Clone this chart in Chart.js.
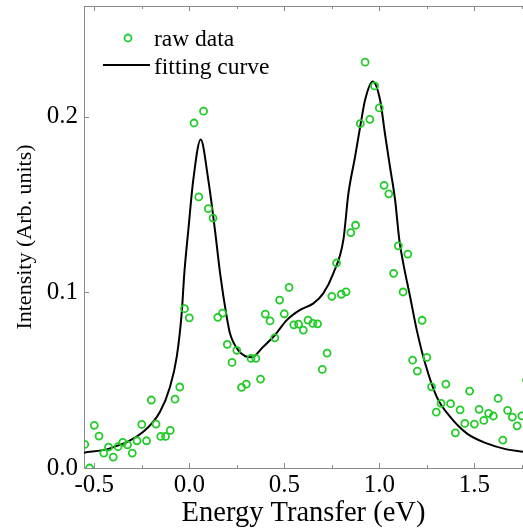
<!DOCTYPE html>
<html>
<head>
<meta charset="utf-8">
<script src="https://cdn.jsdelivr.net/npm/chart.js@4.4.1/dist/chart.umd.min.js"></script>
<style>
  html, body { margin: 0; padding: 0; background: #fff; }
  #wrap { width: 523px; height: 531px; }
</style>
</head>
<body>
<div id="wrap"><canvas id="spectrum" width="523" height="531"></canvas></div>
<script>
// raw data, 0.025 eV steps
const rawX = [
    -0.55, -0.525, -0.5, -0.475, -0.45, -0.425, -0.4, -0.375, -0.35, -0.325,
    -0.3, -0.275, -0.25, -0.225, -0.2, -0.175, -0.15, -0.125, -0.1, -0.075,
    -0.05, -0.025, 0.0, 0.025, 0.05, 0.075, 0.1, 0.125, 0.15, 0.175,
    0.2, 0.225, 0.25, 0.275, 0.3, 0.325, 0.35, 0.375, 0.4, 0.425,
    0.45, 0.475, 0.5, 0.525, 0.55, 0.575, 0.6, 0.625, 0.65, 0.675,
    0.7, 0.725, 0.75, 0.775, 0.8, 0.825, 0.85, 0.875, 0.9, 0.925,
    0.95, 0.975, 1.0, 1.025, 1.05, 1.075, 1.1, 1.125, 1.15, 1.175,
    1.2, 1.225, 1.25, 1.275, 1.3, 1.325, 1.35, 1.375, 1.4, 1.425,
    1.45, 1.475, 1.5, 1.525, 1.55, 1.575, 1.6, 1.625, 1.65, 1.675,
    1.7, 1.725, 1.75, 1.775
];
const rawY = [
    0.0134, 0.0, 0.0243, 0.0182, 0.0085, 0.0119, 0.0062, 0.0121, 0.0146, 0.0132,
    0.0085, 0.0155, 0.0248, 0.0155, 0.0387, 0.025, 0.018, 0.018, 0.0214, 0.0392,
    0.0461, 0.0907, 0.0855, 0.1964, 0.1543, 0.2031, 0.1476, 0.1423, 0.0858, 0.0882,
    0.0704, 0.0601, 0.067, 0.0459, 0.0478, 0.0624, 0.0624, 0.0506, 0.0876, 0.0837,
    0.0741, 0.0956, 0.0878, 0.1028, 0.0815, 0.0819, 0.0785, 0.0842, 0.0823, 0.0821,
    0.0561, 0.0654, 0.0977, 0.1167, 0.0989, 0.1003, 0.134, 0.1382, 0.196, 0.231,
    0.1985, 0.2175, 0.205, 0.1609, 0.1561, 0.1108, 0.1265, 0.1002, 0.1218, 0.0614,
    0.0552, 0.0841, 0.063, 0.0462, 0.0318, 0.0368, 0.0478, 0.0366, 0.02, 0.0331,
    0.0254, 0.0438, 0.025, 0.0334, 0.0271, 0.0311, 0.0296, 0.0396, 0.0159, 0.0328,
    0.029, 0.024, 0.0297, 0.05
];

// fitting curve
const fitX = [
    -0.555, -0.417, -0.242, -0.154, -0.102, -0.066, -0.04, -0.026, -0.005, 0.021,
    0.06, 0.1, 0.135, 0.162, 0.197, 0.214, 0.258, 0.328, 0.389, 0.451,
    0.513, 0.583, 0.653, 0.705, 0.758, 0.811, 0.837, 0.872, 0.902, 0.925,
    0.965, 1.004, 1.03, 1.056, 1.083, 1.105, 1.126, 1.162, 1.197, 1.241,
    1.302, 1.372, 1.46, 1.565, 1.67, 1.756
];
const fitY = [
    0.0087, 0.0112, 0.0206, 0.032, 0.046, 0.0633, 0.088, 0.111, 0.1355, 0.164,
    0.187, 0.164, 0.1355, 0.111, 0.086, 0.0767, 0.067, 0.063, 0.069, 0.0757,
    0.0842, 0.09, 0.0937, 0.0994, 0.1108, 0.13, 0.156, 0.177, 0.196, 0.2095,
    0.22, 0.2095, 0.19, 0.1715, 0.1526, 0.13, 0.1165, 0.0975, 0.0785, 0.0596,
    0.0405, 0.0292, 0.0197, 0.014, 0.0106, 0.0092
];

const xTicks = [-0.5, 0.0, 0.5, 1.0, 1.5];
const xMinor = [-0.25, 0.25, 0.75, 1.25, 1.75];
const yTicks = [0.0, 0.1, 0.2];

const green = "rgb(34, 204, 40)";
const frame = "#8a8a8a";
const serif = "'Liberation Serif', 'Times New Roman', serif";

// inward tick marks + top frame line
const tickMarks = {
    id: "tickMarks",
    afterDatasetsDraw(chart) {
        const { ctx, chartArea: a, scales } = chart;
        const x = scales.x, y = scales.y;
        ctx.save();
        ctx.strokeStyle = frame;
        ctx.lineWidth = 1;
        ctx.beginPath();
        ctx.moveTo(a.left, a.top + 0.5);
        ctx.lineTo(a.right, a.top + 0.5);
        const mark = (list, len) => {
            list.forEach(v => {
                const px = Math.round(x.getPixelForValue(v)) + 0.5;
                ctx.moveTo(px, a.bottom);
                ctx.lineTo(px, a.bottom - len);
                ctx.moveTo(px, a.top);
                ctx.lineTo(px, a.top + len);
            });
        };
        mark(xTicks, 5);
        mark(xMinor, 3);
        yTicks.forEach(v => {
            const py = Math.round(y.getPixelForValue(v)) + 0.5;
            ctx.moveTo(a.left, py);
            ctx.lineTo(a.left + 5, py);
        });
        ctx.stroke();
        ctx.restore();
    },
};

// legend in the upper left corner
const cornerLegend = {
    id: "cornerLegend",
    afterDraw(chart) {
        const { ctx, chartArea: a } = chart;
        ctx.save();
        ctx.font = "23.5px " + serif;
        ctx.fillStyle = "#000";
        ctx.textBaseline = "alphabetic";

        ctx.strokeStyle = green;
        ctx.lineWidth = 1.8;
        ctx.beginPath();
        ctx.arc(a.left + 44, a.top + 32, 3.5, 0, Math.PI * 2);
        ctx.stroke();
        ctx.fillText("raw data", a.left + 70, a.top + 40);

        ctx.strokeStyle = "#000";
        ctx.lineWidth = 2;
        ctx.beginPath();
        ctx.moveTo(a.left + 19, a.top + 59);
        ctx.lineTo(a.left + 66, a.top + 59);
        ctx.stroke();
        ctx.fillText("fitting curve", a.left + 70, a.top + 68);
        ctx.restore();
    },
};

new Chart(document.getElementById("spectrum"), {
    type: "scatter",
    data: {
        datasets: [
            {
                label: "raw data",
                data: rawX.map((v, i) => ({ x: v, y: rawY[i] })),
                pointStyle: "circle",
                pointRadius: 3.5,
                pointBorderWidth: 1.8,
                pointBorderColor: green,
                pointBackgroundColor: "rgba(0,0,0,0)",
                showLine: false,
            },
            {
                label: "fitting curve",
                data: fitX.map((v, i) => ({ x: v, y: fitY[i] })),
                showLine: true,
                borderColor: "#000",
                borderWidth: 2,
                pointRadius: 0,
                cubicInterpolationMode: "monotone",
            },
        ],
    },
    options: {
        responsive: false,
        animation: false,
        devicePixelRatio: 1,
        layout: { autoPadding: false, padding: { top: 6, right: 0, left: 0, bottom: 0 } },
        plugins: {
            legend: { display: false },
            tooltip: { enabled: false },
        },
        scales: {
            x: {
                type: "linear",
                min: -0.554,
                max: 1.756,
                afterBuildTicks: s => { s.ticks = xTicks.map(v => ({ value: v })); },
                afterFit: s => { s.height = 63; s.paddingLeft = 0; s.paddingRight = 0; },
                grid: { display: false, drawTicks: false },
                border: { display: true, color: frame, width: 1 },
                ticks: {
                    color: "#000",
                    padding: 2,
                    font: { family: serif, size: 25 },
                    maxRotation: 0,
                    callback: v => v.toFixed(1),
                },
                title: {
                    display: true,
                    text: "Energy Transfer (eV)",
                    color: "#000",
                    font: { family: serif, size: 28.5 },
                    padding: { top: 0, bottom: 0 },
                },
            },
            y: {
                type: "linear",
                min: 0,
                max: 0.263,
                afterBuildTicks: s => { s.ticks = yTicks.map(v => ({ value: v })); },
                afterFit: s => { s.width = 84; s.paddingTop = 0; s.paddingBottom = 0; },
                grid: { display: false, drawTicks: false },
                border: { display: true, color: frame, width: 1 },
                ticks: {
                    color: "#000",
                    padding: 6,
                    font: { family: serif, size: 25 },
                    callback: v => v.toFixed(1),
                },
                title: {
                    display: true,
                    text: "Intensity (Arb. units)",
                    color: "#000",
                    font: { family: serif, size: 22 },
                    padding: { top: 12, bottom: 0 },
                },
            },
        },
    },
    plugins: [tickMarks, cornerLegend],
});
</script>
</body>
</html>
